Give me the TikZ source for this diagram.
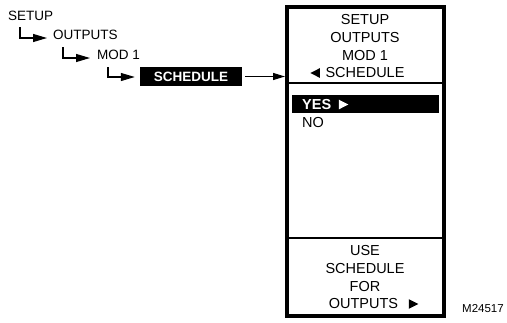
\documentclass[tikz,border=0pt]{standalone}
\usepackage{fontspec}
\setmainfont{Liberation Sans}
\usetikzlibrary{arrows.meta,calc}
\begin{document}
\begin{tikzpicture}[x=1pt,y=-1pt,
  lbl/.style={inner sep=0pt,anchor=west,font=\fontsize{13.5}{16}\selectfont},
  ptxt/.style={inner sep=0pt,font=\fontsize{14.5}{17}\selectfont},
  tree/.style={line width=1.1pt,-{Triangle[length=14pt,width=8pt]}},
  link/.style={line width=1.1pt,-{Triangle[length=12pt,width=7pt]}},
  divider/.style={line width=1.2pt},
  tri/.style={fill=black,draw=none}]
\useasboundingbox (0,0) rectangle (507,322);

% left tree
\node[lbl] (setup) at (8,16) {SETUP};
\node[lbl] (outputs) at (53,35) {OUTPUTS};
\node[lbl] (mod) at (97,55) {MOD 1};
\node[fill=black,text=white,inner sep=0pt,minimum width=102pt,minimum height=19pt,
      font=\fontsize{13.5}{16}\selectfont\bfseries] (sched) at (191,76.5) {SCHEDULE};

\coordinate (t1) at (20,27);
\coordinate (t2) at (63,47);
\coordinate (t3) at (108,67);
\draw[tree] (t1) |- ([xshift=-6pt,yshift=-3pt]outputs.west);
\draw[tree] (t2) |- ([xshift=-7pt,yshift=-3pt]mod.west);
\draw[tree] (t3) |- ([xshift=-5pt,yshift=-0.5pt]sched.west);

% panel
\node[draw=black,line width=4pt,minimum width=156.7pt,minimum height=309pt,inner sep=0pt]
  (panel) at (365.35,161.5) {};
\coordinate (d1) at (365,83);
\coordinate (d2) at (365,238);
\draw[divider] (panel.west |- d1) -- (panel.east |- d1);
\draw[divider] (panel.west |- d2) -- (panel.east |- d2);

\draw[link] ([xshift=3pt]sched.east) -- (panel.west |- sched.east);

% header
\node[ptxt] (h1) at (365,20) {SETUP};
\node[ptxt] (h2) at (365,38) {OUTPUTS};
\node[ptxt] (h3) at (365,56) {MOD 1};
\node[ptxt] (h4) at (365,73) {SCHEDULE};
\fill[tri] ([xshift=-15pt]h4.west) -- ++(9.5,-4.8) -- ++(0,9.6) -- cycle;

% options
\node[fill=black,inner sep=0pt,minimum width=147pt,minimum height=18pt] (yesbar) at (365.5,104) {};
\node[ptxt,anchor=west,text=white,font=\fontsize{14.5}{17}\selectfont\bfseries] (yes) at (302,104.5) {YES};
\fill[white] ([xshift=7.5pt]yes.east) -- ++(0,-4.8) -- ++(9.5,4.8) -- ++(-9.5,4.8) -- cycle;
\node[ptxt,anchor=west] (no) at (302,123) {NO};

% footer
\node[ptxt] (f1) at (365,250.5) {USE};
\node[ptxt] (f2) at (365,269) {SCHEDULE};
\node[ptxt] (f3) at (365,287) {FOR};
\node[ptxt] (f4) at (363.5,304) {OUTPUTS};
\fill[tri] ([xshift=10.5pt]f4.east) -- ++(0,-4.8) -- ++(9.5,4.8) -- ++(-9.5,4.8) -- cycle;

\node[inner sep=0pt,font=\fontsize{11.5}{14}\selectfont] (code) at (483,308.5) {M24517};
\end{tikzpicture}
\end{document}
